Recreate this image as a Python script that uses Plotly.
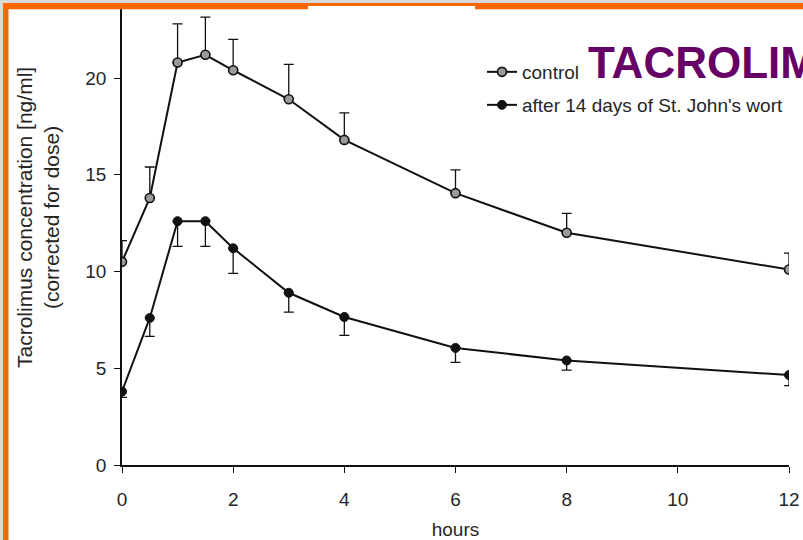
import plotly.graph_objects as go

W, H = 803, 540

hours = [0, 0.5, 1, 1.5, 2, 3, 4, 6, 8, 12]
control = [10.5, 13.8, 20.8, 21.2, 20.4, 18.9, 16.8, 14.05, 12.0, 10.1]
control_err = [1.1, 1.6, 2.0, 1.95, 1.6, 1.8, 1.4, 1.2, 1.0, 0.85]
sjw = [3.8, 7.6, 12.6, 12.6, 11.2, 8.9, 7.65, 6.05, 5.4, 4.65]
sjw_err = [0.3, 0.95, 1.3, 1.3, 1.3, 1.0, 0.95, 0.75, 0.5, 0.55]
zeros = [0] * len(hours)

x_ticks = [0, 2, 4, 6, 8, 10, 12]
y_ticks = [0, 5, 10, 15, 20]

FONT = "Liberation Sans, Arial, sans-serif"
TXT = "#262626"

def px_x(p):
    return p / W

def px_y(p):
    return 1 - p / H

fig = go.Figure()

fig.add_trace(go.Scatter(
    x=hours, y=control, name="control", mode="lines+markers",
    line=dict(color="#111", width=2),
    marker=dict(symbol="circle", size=9, color="#9a9a9a",
                line=dict(color="#111", width=1.6)),
    error_y=dict(type="data", symmetric=False, array=control_err,
                 arrayminus=zeros, color="#111", thickness=1.3, width=5),
    legend="legend",
))
fig.add_trace(go.Scatter(
    x=hours, y=sjw, name="after 14 days of St. John's wort", mode="lines+markers",
    line=dict(color="#111", width=2),
    marker=dict(symbol="circle", size=9, color="#111",
                line=dict(color="#111", width=1)),
    error_y=dict(type="data", symmetric=False, array=zeros,
                 arrayminus=sjw_err, color="#111", thickness=1.3, width=5),
    legend="legend2",
))

ax_line = dict(showline=True, linecolor="#111", linewidth=1.6,
               ticks="outside", tickcolor="#111", tickwidth=1.3,
               showgrid=False, zeroline=False, automargin=False,
               tickfont=dict(family=FONT, size=19, color=TXT))

fig.update_layout(
    width=W, height=H,
    margin=dict(l=0, r=0, t=0, b=0, autoexpand=False),
    paper_bgcolor="#d9d9d9",
    plot_bgcolor="white",
    showlegend=True,
    xaxis=dict(domain=[px_x(122), px_x(789)], range=[0, 12],
               tickvals=x_ticks, ticktext=[str(v) for v in x_ticks],
               ticklen=6, ticklabelstandoff=10,
               title=dict(text="hours", font=dict(family=FONT, size=19, color=TXT),
                          standoff=15),
               **ax_line),
    yaxis=dict(domain=[px_y(465), px_y(4)], range=[0, (465 - 4) / 19.35],
               tickvals=y_ticks, ticktext=[str(v) for v in y_ticks],
               ticklen=6, ticklabelstandoff=4,
               **ax_line),
    legend=dict(x=px_x(482), y=px_y(72), xanchor="left", yanchor="middle",
                bgcolor="rgba(0,0,0,0)", borderwidth=0,
                font=dict(family=FONT, size=19, color=TXT)),
    legend2=dict(x=px_x(482), y=px_y(105), xanchor="left", yanchor="middle",
                 bgcolor="rgba(0,0,0,0)", borderwidth=0,
                 font=dict(family=FONT, size=19, color=TXT)),
)

# page background, orange frame
shapes = [
    dict(type="rect", xref="paper", yref="paper", layer="below",
         x0=px_x(3), x1=1, y0=0, y1=px_y(3), fillcolor="white", line_width=0),
    dict(type="rect", xref="paper", yref="paper", layer="above",
         x0=px_x(3), x1=px_x(8.5), y0=0, y1=px_y(3), fillcolor="#ff6600", line_width=0),
    dict(type="rect", xref="paper", yref="paper", layer="above",
         x0=px_x(3), x1=px_x(308), y0=px_y(9.3), y1=px_y(3), fillcolor="#ff6600", line_width=0),
    dict(type="rect", xref="paper", yref="paper", layer="above",
         x0=px_x(308), x1=px_x(475), y0=px_y(6), y1=px_y(3), fillcolor="#ff6600", line_width=0),
    dict(type="rect", xref="paper", yref="paper", layer="above",
         x0=px_x(475), x1=1, y0=px_y(9.3), y1=px_y(3), fillcolor="#ff6600", line_width=0),
]
fig.update_layout(shapes=shapes)

fig.add_annotation(
    xref="paper", yref="paper", x=px_x(38), y=px_y(218),
    text="Tacrolimus concentration [ng/ml]<br>(corrected for dose)",
    textangle=-90, showarrow=False, xanchor="center", yanchor="middle",
    font=dict(family=FONT, size=21, color=TXT),
)
fig.add_annotation(
    xref="paper", yref="paper", x=px_x(586), y=px_y(62),
    text="<b>TACROLIMUS</b>", showarrow=False, xanchor="left", yanchor="middle",
    font=dict(family=FONT, size=44, color="#660066"),
)

fig.write_html("out.html")
